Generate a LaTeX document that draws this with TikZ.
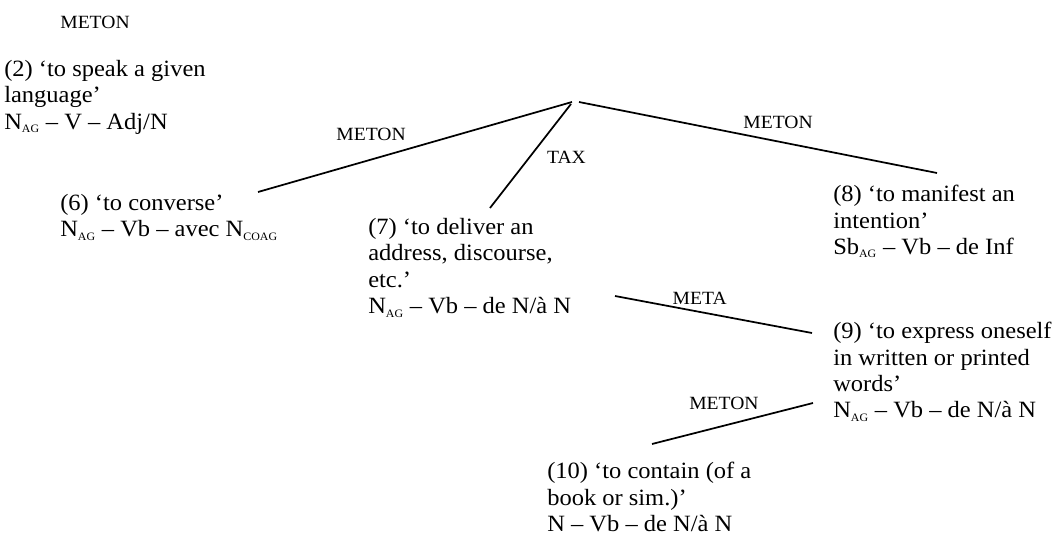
\documentclass[tikz,border=0pt]{standalone}
\usepackage{fontspec}
\setmainfont{Liberation Serif}[FakeStretch=1.05]
\usetikzlibrary{positioning}

\newcommand{\bodyfont}{\fontsize{17.5}{19.8}\selectfont}
\newcommand{\labfont}{\fontsize{14}{16}\selectfont}
\newcommand{\role}[1]{\textsubscript{\fontsize{8.5}{9}\selectfont #1}}

\begin{document}
\begin{tikzpicture}[
      x=0.75pt, y=-0.75pt,
      sense/.style={anchor=north west, align=left, inner sep=0pt,
                    font=\bodyfont},
      link/.style={draw=black, line width=1.3pt},
      elab/.style={font=\labfont, inner sep=0pt},
    ]
    \useasboundingbox (0,0) rectangle (1061,542);

    % ---- senses ----------------------------------------------------
    \node[elab] (tlab) at (95,22) {METON};
    \node[sense] (s2) at (4,60)
      {(2) `to speak a given\\language'\\N\role{AG} -- V -- Adj/N};
    \node[sense] (s6) at (60,194)
      {(6) `to converse'\\N\role{AG} -- Vb -- avec N\role{COAG}};
    \node[sense] (s7) at (368,218)
      {(7) `to deliver an\\address, discourse,\\etc.'\\N\role{AG} -- Vb -- de N/à N};
    \node[sense] (s8) at (833,185)
      {(8) `to manifest an\\intention'\\Sb\role{AG} -- Vb -- de Inf};
    \node[sense] (s9) at (833,322)
      {(9) `to express oneself\\in written or printed\\words'\\N\role{AG} -- Vb -- de N/à N};
    \node[sense] (s10) at (547,462)
      {(10) `to contain (of a\\book or sim.)'\\N -- Vb -- de N/à N};

    % ---- top of the tree -------------------------------------------
    \coordinate (top) at (575,102);

    % ---- branches --------------------------------------------------
    \draw[link] ([xshift=-2.25pt]top)
      -- node[elab, above=13.4pt, pos=0.64] {METON}
      ([shift={(198,-2)}]s6.north west);
    \draw[link] ([shift={(-4,2)}]top)
      -- node[elab, right=12.4pt, pos=0.51] {TAX}
      ([shift={(122,-10)}]s7.north west);
    \draw[link] ([xshift=3pt]top)
      -- node[elab, above=8.9pt, pos=0.556] {METON}
      ([shift={(104,-12)}]s8.north west);

    % ---- lower links -----------------------------------------------
    \draw[link] ([shift={(247,78)}]s7.north west)
      -- node[elab, above=5pt, pos=0.43] {META}
      ([shift={(-21,11)}]s9.north west);
    \draw[link] ([shift={(-20,81)}]s9.north west)
      -- node[elab, above=11pt, pos=0.553] {METON}
      ([shift={(105,-18)}]s10.north west);

  \end{tikzpicture}
\end{document}
